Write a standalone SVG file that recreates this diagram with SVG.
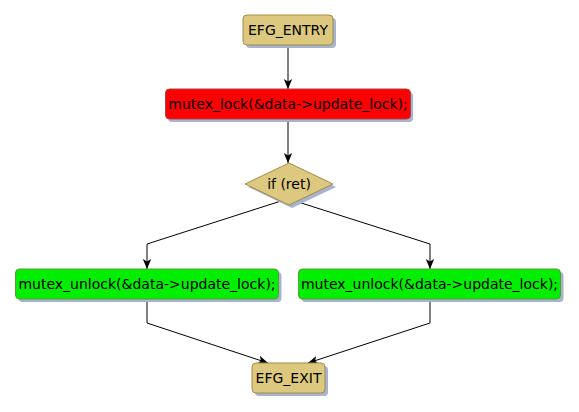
<svg xmlns="http://www.w3.org/2000/svg" width="579" height="412" viewBox="0 0 579 412">
<defs>
<marker id="ah" viewBox="0 0 10 10" refX="10" refY="5" markerWidth="10" markerHeight="10" markerUnits="userSpaceOnUse" orient="auto">
<path d="M0,0.8 L10,5 L0,9.2 L2.5,5 Z" fill="#000"/>
</marker>
</defs>
<style>
text{font-family:"DejaVu Sans","Liberation Sans",sans-serif;font-size:14px;fill:#000;text-anchor:middle}
.sh{fill:#a6b4cf}
.k{fill:#dcc87e;stroke:#a08c48;stroke-width:1}
.r{fill:#ff0000;stroke:#b04040;stroke-width:1}
.g{fill:#00ee00;stroke:#5a9a3a;stroke-width:1}
.e{fill:none;stroke:#000;stroke-width:1;marker-end:url(#ah)}
</style>
<rect width="579" height="412" fill="#fff"/>
<g id="edges">
<path class="e" d="M288,45 L288,89"/>
<path class="e" d="M288,119 L288,163"/>
<path class="e" d="M281,201 L147,244 L147,269"/>
<path class="e" d="M295,201 L430,244 L430,269"/>
<path class="e" d="M147,299 L147,323 L268,363"/>
<path class="e" d="M430,299 L430,323 L308,363"/>
</g>
<g id="entry">
<rect class="sh" x="246" y="18" width="90" height="30" rx="4"/>
<rect class="k" x="243" y="15" width="90" height="30" rx="4"/>
<text x="288" y="35">EFG_ENTRY</text>
</g>
<g id="lock">
<rect class="sh" x="168" y="92" width="245" height="30" rx="4"/>
<rect class="r" x="165.5" y="89" width="245" height="30" rx="4"/>
<text x="288" y="109">mutex_lock(&amp;data-&gt;update_lock);</text>
</g>
<g id="cond">
<polygon class="sh" points="292,166 336,187 292,208 248,187"/>
<polygon class="k" points="289,163 333,184 289,205 245,184"/>
<text x="289" y="189">if (ret)</text>
</g>
<g id="unlock1">
<rect class="sh" x="18.5" y="272" width="263" height="30" rx="4"/>
<rect class="g" x="15.5" y="269" width="263" height="30" rx="4"/>
<text x="147" y="289">mutex_unlock(&amp;data-&gt;update_lock);</text>
</g>
<g id="unlock2">
<rect class="sh" x="301.5" y="272" width="262" height="30" rx="4"/>
<rect class="g" x="298.5" y="269" width="262" height="30" rx="4"/>
<text x="429.5" y="289">mutex_unlock(&amp;data-&gt;update_lock);</text>
</g>
<g id="exit">
<rect class="sh" x="255" y="366" width="73" height="30" rx="4"/>
<rect class="k" x="252" y="363" width="73" height="30" rx="4"/>
<text x="288.5" y="383">EFG_EXIT</text>
</g>
</svg>
